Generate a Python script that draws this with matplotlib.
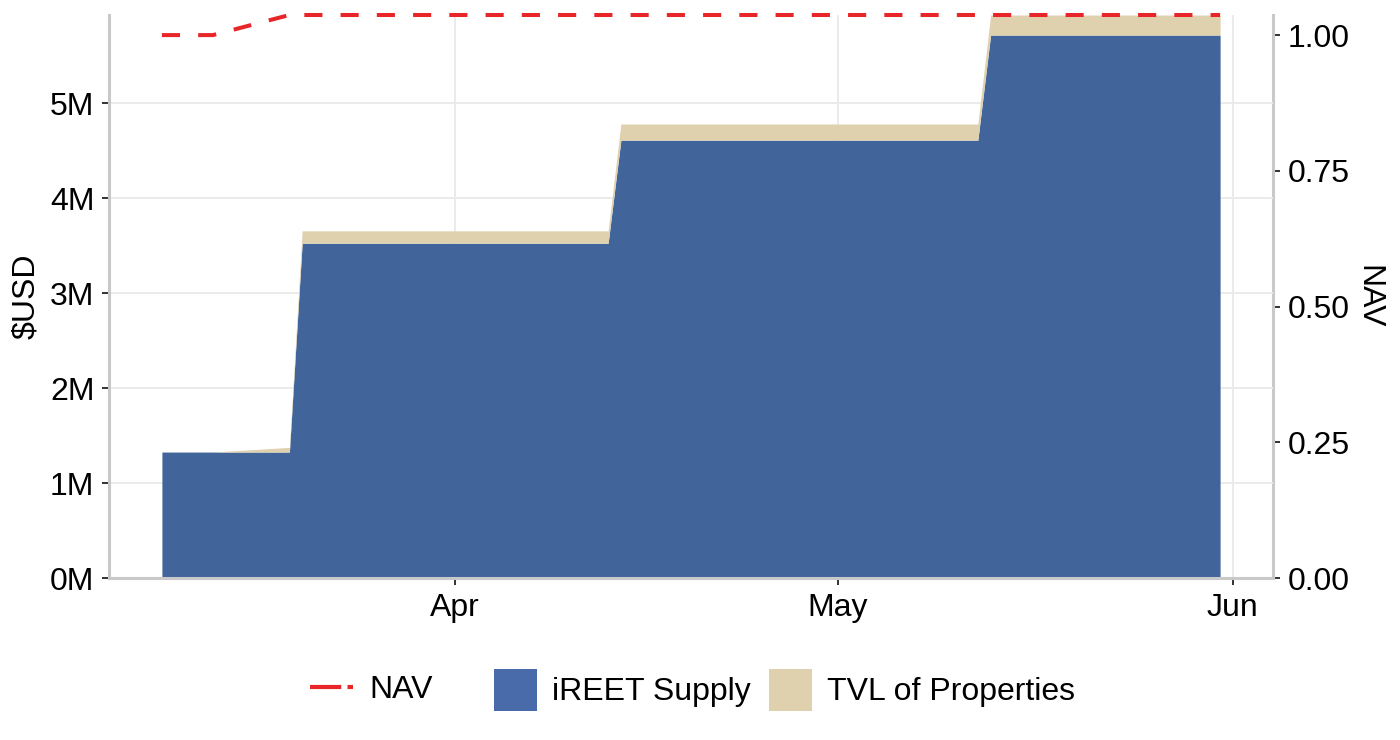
import matplotlib
matplotlib.use("Agg")
import matplotlib.pyplot as plt
import matplotlib.dates as mdates
from matplotlib.lines import Line2D
from matplotlib.patches import Patch
import numpy as np
import pandas as pd

plt.rcParams['font.family'] = ['Liberation Sans', 'DejaVu Sans']

# ---- data ----
dates = pd.to_datetime(['2024-03-09', '2024-03-13', '2024-03-19', '2024-03-20',
                        '2024-04-13', '2024-04-14', '2024-05-12', '2024-05-13',
                        '2024-05-31'])
ireet_supply = np.array([1.326, 1.326, 1.326, 3.525, 3.525, 4.61, 4.61, 5.716, 5.716]) * 1e6
tvl_properties = np.array([0.0, 0.0, 0.049, 0.130, 0.130, 0.170, 0.170, 0.211, 0.211]) * 1e6
nav = np.array([1.0, 1.0, 1.037, 1.037, 1.037, 1.037, 1.037, 1.037, 1.037])
nav_scale = 5.716e6  # secondary-axis scale factor

left_ticks = [0, 1e6, 2e6, 3e6, 4e6, 5e6]
left_labels = ['0M', '1M', '2M', '3M', '4M', '5M']
right_ticks = [0.0, 0.25, 0.50, 0.75, 1.00]
right_labels = ['0.00', '0.25', '0.50', '0.75', '1.00']
month_ticks = pd.to_datetime(['2024-04-01', '2024-05-01', '2024-06-01'])
month_labels = ['Apr', 'May', 'Jun']

# ---- style ----
C_BLUE = '#41649A'
C_BLUE_KEY = '#4A6BAA'
C_BEIGE = '#DFD0AE'
C_RED = '#E8262A'
C_AXIS = '#C9C9C9'
C_GRID = '#EBEBEB'
C_TICK = '#333333'
FS = 23

W, H = 1400, 740
fig = plt.figure(figsize=(W / 100, H / 100), dpi=100)
ax = fig.add_axes([109 / W, 162 / H, 1164 / W, 563 / H])

total = ireet_supply + tvl_properties
ax.fill_between(dates, 0, ireet_supply, color=C_BLUE, linewidth=0, zorder=2)
ax.fill_between(dates, ireet_supply, total, color=C_BEIGE, linewidth=0, zorder=2)
ax.plot(dates, nav * nav_scale, color=C_RED, linewidth=2.9,
        linestyle=(0, (4.5, 4.5)), zorder=3, clip_on=False)

# limits (x: 5% expansion like ggplot; y: exact)
x0, x1 = mdates.date2num(dates.min()), mdates.date2num(dates.max())
pad = 0.05 * (x1 - x0)
ax.set_xlim(x0 - pad, x1 + pad)
ax.set_ylim(0, max(total.max(), (nav * nav_scale).max()))

ax.set_xticks(mdates.date2num(month_ticks))
ax.set_xticklabels(month_labels)
ax.set_yticks(left_ticks)
ax.set_yticklabels(left_labels)

ax.set_axisbelow(True)
ax.grid(True, color=C_GRID, linewidth=1.4)
for s in ['top', 'right']:
    ax.spines[s].set_visible(False)
for s in ['left', 'bottom']:
    ax.spines[s].set_color(C_AXIS)
    ax.spines[s].set_linewidth(2.2)
ax.tick_params(axis='both', length=5, width=1.4, color=C_TICK,
               labelsize=FS, labelcolor='black', pad=5.5)

sec = ax.secondary_yaxis('right', functions=(lambda y: y / nav_scale,
                                              lambda v: v * nav_scale))
sec.set_yticks(right_ticks)
sec.set_yticklabels(right_labels)
sec.spines['right'].set_color(C_AXIS)
sec.spines['right'].set_linewidth(2.2)
sec.tick_params(axis='y', length=5, width=1.4, color=C_TICK,
                labelsize=FS, labelcolor='black', pad=5.5)

ax.set_ylabel('$USD', fontsize=FS, va='center')
ax.yaxis.set_label_coords((26 - 109) / 1164, 0.5, transform=ax.transAxes)
sec.set_ylabel('NAV', fontsize=FS, rotation=270, va='center')
sec.yaxis.set_label_coords((1368 - 109) / 1164, 0.5, transform=ax.transAxes)

# ---- legends ----
ly = (H - 690) / H
h_nav = [Line2D([0], [0], color=C_RED, linewidth=3.0, linestyle=(0, (7.5, 1.5)))]
leg1 = fig.legend(h_nav, ['NAV'], loc='center left', bbox_to_anchor=(310 / W, ly),
                  bbox_transform=fig.transFigure, frameon=False, fontsize=FS,
                  borderpad=0, borderaxespad=0, handlelength=1.35,
                  handletextpad=0.5)
h_fill = [Patch(facecolor=C_BLUE_KEY, edgecolor='none'),
          Patch(facecolor=C_BEIGE, edgecolor='none')]
leg2 = fig.legend(h_fill, ['iREET Supply', 'TVL of Properties'], loc='center left',
                  bbox_to_anchor=(494 / W, ly), bbox_transform=fig.transFigure,
                  frameon=False, fontsize=FS, ncol=2, borderpad=0, borderaxespad=0,
                  handlelength=1.35, handleheight=1.65, handletextpad=0.47,
                  columnspacing=0.56)

fig.savefig('out.png', dpi=100)
